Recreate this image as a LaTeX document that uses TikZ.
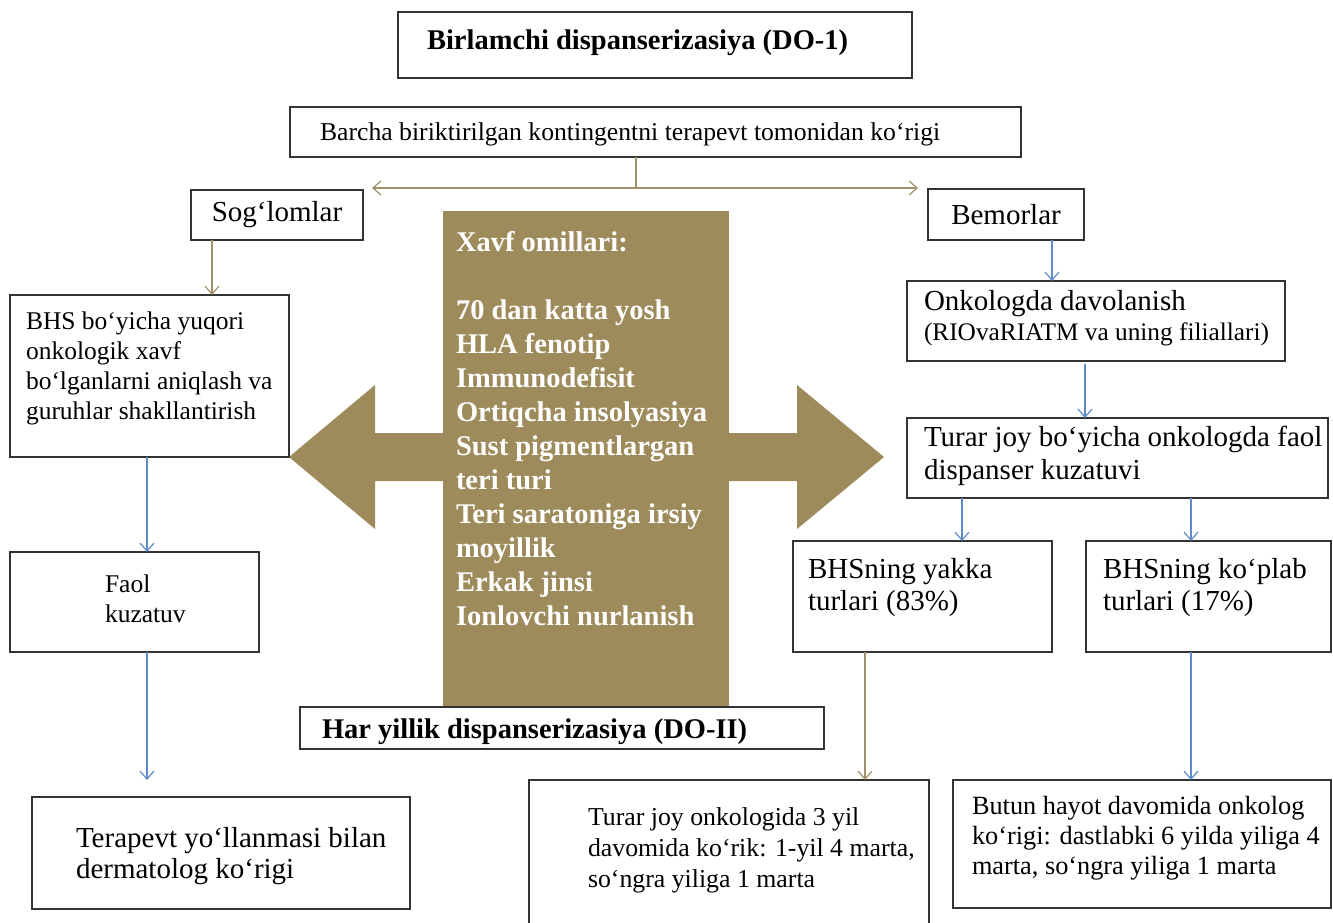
\documentclass[tikz,border=0pt]{standalone}
\usepackage{fontspec}
\setmainfont{Liberation Serif}
\usetikzlibrary{arrows.meta,positioning}
\definecolor{riskbrown}{RGB}{158,139,91}
\definecolor{linkbrown}{RGB}{160,145,105}
\definecolor{linkblue}{RGB}{95,140,200}
\newcommand{\btext}[4]{\parbox[c][#1][t]{#2}{\vspace*{#3}\begin{tabular}{@{}l@{}}#4\end{tabular}}}

\begin{document}
\begin{tikzpicture}[x=1pt, y=-1pt, >={Straight Barb[length=8pt,width=14pt]},
	   b/.style={draw=black!80, line width=1.2pt, anchor=north west, inner ysep=0pt, outer sep=0pt},
	   big/.style={font=\fontsize{29}{32}\selectfont},
	   small/.style={font=\fontsize{25.5}{30}\selectfont},
	   hd/.style={font=\fontsize{28.5}{34}\selectfont\bfseries},
	   bl/.style={->, linkblue, line width=1.2pt},
	   br/.style={->, linkbrown, line width=1.2pt}]
	  \useasboundingbox (0,0) rectangle (1333,923);
	  \fill[riskbrown] (289,457) -- (375,385) -- (375,433) -- (797,433) -- (797,385) -- (884,457)
	    -- (797,529) -- (797,481) -- (375,481) -- (375,529) -- cycle;
	  \node[b, hd, inner xsep=29pt] (do1) at (398,12) {\btext{66pt}{456pt}{14pt}{Birlamchi dispanserizasiya (DO-1)}};
	  \node[b, font=\fontsize{25.7}{30}\selectfont, inner xsep=30pt] (all) at (290,107) {\btext{50pt}{671pt}{13pt}{Barcha biriktirilgan kontingentni terapevt tomonidan ko‘rigi}};
	  \node[b, big, inner sep=0pt, minimum width=172pt, minimum height=50pt] (healthy) at (191,190) {Sog‘lomlar};
	  \node[b, big, inner sep=0pt, minimum width=156pt, minimum height=51pt] (sick) at (928,189) {Bemorlar};
	  \node[b, small, inner xsep=16pt] (bhs) at (10,295) {\btext{162pt}{247pt}{13pt}{BHS bo‘yicha yuqori\\ onkologik xavf\\ bo‘lganlarni aniqlash va\\ guruhlar shakllantirish}};
	  \node[b, small, inner xsep=95pt] (faol) at (10,552) {\btext{100pt}{59pt}{19pt}{Faol\\ kuzatuv}};
	  \node[b, font=\fontsize{29}{31}\selectfont, inner xsep=44pt] (derm) at (32,797) {\btext{112pt}{290pt}{29pt}{Terapevt yo‘llanmasi bilan\\ dermatolog ko‘rigi}};
	  \node[b, fill=riskbrown, draw=none, text=white, hd, inner xsep=13pt] (risk) at (443,211) {\btext{495pt}{260pt}{17pt}{Xavf omillari:\\[34pt] 70 dan katta yosh\\ HLA fenotip\\ Immunodefisit\\ Ortiqcha insolyasiya\\ Sust pigmentlargan\\ teri turi\\ Teri saratoniga irsiy\\ moyillik\\ Erkak jinsi\\ Ionlovchi nurlanish}};
	  \node[b, hd, fill=white, inner xsep=22pt] (do2) at (300,707) {\btext{42pt}{480pt}{8pt}{Har yillik dispanserizasiya (DO-II)}};
	  \node[b, font=\fontsize{29}{30}\selectfont, inner xsep=17pt] (onko) at (907,281) {\btext{80pt}{344pt}{8pt}{Onkologda davolanish\\ {\fontsize{25.3}{30}\selectfont (RIOvaRIATM va uning filiallari)}}};
	  \node[b, font=\fontsize{29}{33}\selectfont, inner xsep=17pt] (track) at (907,418) {\btext{80pt}{387pt}{5pt}{Turar joy bo‘yicha onkologda faol\\ dispanser kuzatuvi}};
	  \node[b, big, inner xsep=15pt] (single) at (793,541) {\btext{111pt}{229pt}{15pt}{BHSning yakka\\ turlari (83\%)}};
	  \node[b, big, inner xsep=17pt] (multi) at (1086,541) {\btext{111pt}{211pt}{15pt}{BHSning ko‘plab\\ turlari (17\%)}};
	  \node[b, font=\fontsize{25.8}{31}\selectfont, inner xsep=59pt] (local) at (529,780) {\btext{146pt}{282pt}{24pt}{Turar joy onkologida 3 yil\\ davomida ko‘rik: 1-yil 4 marta,\\ so‘ngra yiliga 1 marta}};
	  \node[b, font=\fontsize{26.3}{30}\selectfont, inner xsep=19pt] (life) at (953,780) {\btext{128pt}{340pt}{13pt}{Butun hayot davomida onkolog\\ ko‘rigi: dastlabki 6 yilda yiliga 4\\ marta, so‘ngra yiliga 1 marta}};
	  \coordinate (forkL) at (372,188);
	  \coordinate (forkR) at (918,188);
	  \draw[linkbrown, line width=1.2pt] ([xshift=-19.5pt]all.south) -- ++(0,31) coordinate (fork);
	  \draw[br] (fork) -- (forkL); \draw[br] (fork) -- (forkR);
	  \draw[br] ([xshift=-65pt]healthy.south) -- ([xshift=-65pt]healthy.south |- bhs.north);
	  \draw[bl] ([xshift=-2.5pt]bhs.south) -- ([xshift=-2.5pt]bhs.south |- faol.north);
	  \draw[bl, shorten >=17pt] ([xshift=12.5pt]faol.south) -- ([xshift=12.5pt]faol.south |- derm.north);
	  \draw[bl] ([xshift=46pt]sick.south) -- ([xshift=46pt]sick.south |- onko.north);
	  \draw[bl, shorten <=3pt] ([xshift=-11pt]onko.south) -- ([xshift=-11pt]onko.south |- track.north);
	  \draw[bl] ([xshift=-155.5pt]track.south) -- ([xshift=-155.5pt]track.south |- single.north);
	  \draw[bl] ([xshift=73.5pt]track.south) -- ([xshift=73.5pt]track.south |- multi.north);
	  \draw[br] ([xshift=-57.5pt]single.south) -- ([xshift=-57.5pt]single.south |- local.north);
	  \draw[bl] ([xshift=-17.5pt]multi.south) -- ([xshift=-17.5pt]multi.south |- life.north);
	\end{tikzpicture}
\end{document}
